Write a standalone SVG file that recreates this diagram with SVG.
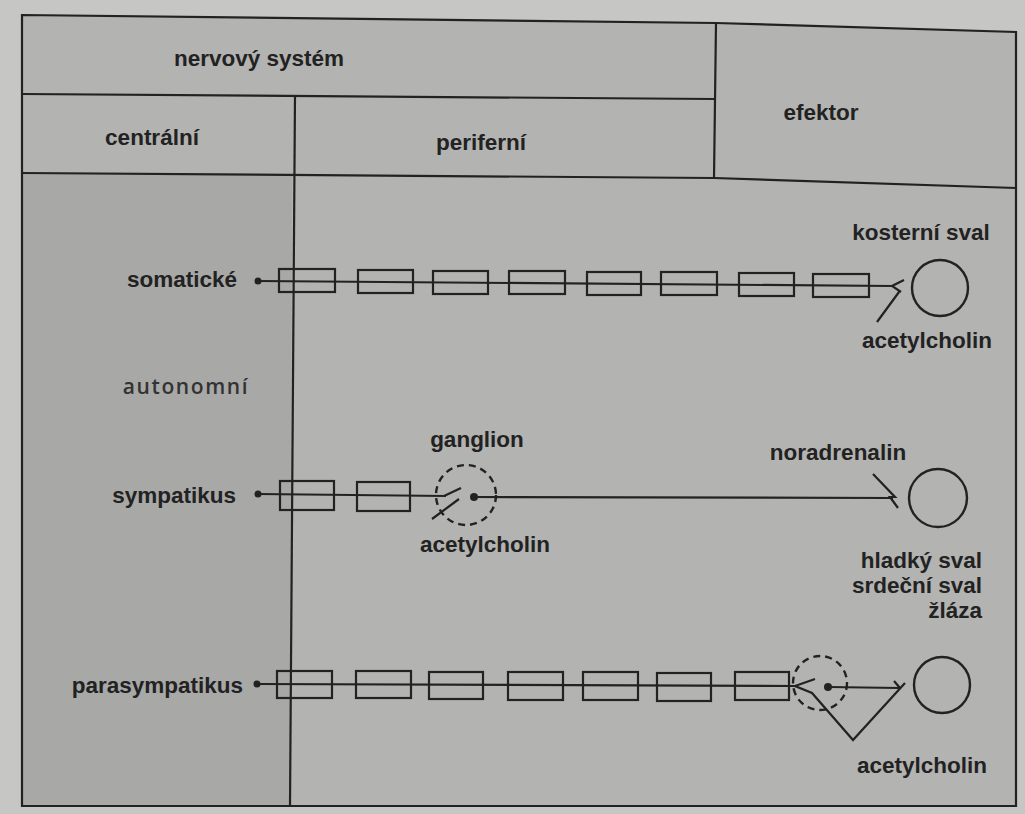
<svg xmlns="http://www.w3.org/2000/svg" width="1025" height="814" viewBox="0 0 1025 814">
<style>
.t{font-family:"Liberation Sans",Arial,sans-serif;font-weight:bold;font-size:22.5px;fill:#222}
.a{font-family:"Open Sans","DejaVu Sans",sans-serif;font-weight:600;font-size:21px;fill:#333;letter-spacing:1.6px}
.ln{stroke:#222;stroke-width:2.2;fill:none}
.fr{stroke:#222;stroke-width:2.2;fill:none}
.bx{stroke:#222;stroke-width:2.2;fill:none}
.ds{stroke:#222;stroke-width:2.4;fill:none;stroke-dasharray:7 5}
.ef{stroke:#222;stroke-width:2.4;fill:none}
</style>
<rect x="0" y="0" width="1025" height="814" fill="#c6c6c4"/>
<path d="M22 15 L716 23 L1016 32 L1016 806 L22 806 Z" fill="#b3b3b1"/>
<path d="M22 173 L292 176 L290 806 L22 806 Z" fill="#a8a8a7"/>

<g id="frame">
  <path class="fr" d="M22 15 L716 23 L1016 32 L1016 806 L22 806 Z"/>
  <path class="fr" d="M22 94 L714 99"/>
  <path class="fr" d="M22 173 L714 178 L1016 188"/>
  <path class="fr" d="M716 23 L714 178"/>
  <path class="fr" d="M295 95 L290 806"/>
</g>

<g id="headers">
  <text class="t" x="259" y="66" text-anchor="middle">nervový systém</text>
  <text class="t" x="152" y="145" text-anchor="middle">centrální</text>
  <text class="t" x="481" y="150" text-anchor="middle">periferní</text>
  <text class="t" x="821" y="120" text-anchor="middle">efektor</text>
</g>

<g id="row-labels">
  <text class="t" x="237" y="287" text-anchor="end">somatické</text>
  <text class="a" x="186" y="394" text-anchor="middle">autonomní</text>
  <text class="t" x="236" y="503" text-anchor="end">sympatikus</text>
  <text class="t" x="243" y="693" text-anchor="end">parasympatikus</text>
</g>

<g id="somaticke">
  <circle cx="258" cy="281" r="3.5" fill="#222"/>
  <path class="ln" d="M258 281 L892 286"/>
  <rect class="bx" x="279" y="269" width="56" height="23"/>
  <rect class="bx" x="358" y="270" width="55" height="23"/>
  <rect class="bx" x="433" y="271" width="55" height="23"/>
  <rect class="bx" x="509" y="271" width="56" height="23"/>
  <rect class="bx" x="587" y="272" width="54" height="23"/>
  <rect class="bx" x="661" y="272" width="56" height="23"/>
  <rect class="bx" x="739" y="273" width="55" height="23"/>
  <rect class="bx" x="813" y="274" width="56" height="23"/>
  <path class="ln" d="M904 280 L892 286 L901 292 M899 292 L877 322"/>
</g>

<g id="kosterni-sval">
  <circle class="ef" cx="940" cy="288" r="28"/>
  <text class="t" x="921" y="240" text-anchor="middle">kosterní sval</text>
  <text class="t" x="927" y="348" text-anchor="middle">acetylcholin</text>
</g>

<g id="sympatikus">
  <circle cx="258" cy="494" r="3.5" fill="#222"/>
  <path class="ln" d="M258 494 L446 496"/>
  <rect class="bx" x="280" y="481" width="54" height="29"/>
  <rect class="bx" x="357" y="482" width="53" height="29"/>
  <circle class="ds" cx="466" cy="495" r="30"/>
  <path class="ln" d="M444 496 L461 488 M459 499 L432 519"/>
  <circle cx="474" cy="497" r="4" fill="#222"/>
  <path class="ln" d="M474 497 L893 498"/>
  <path class="ln" d="M873 474 L895 497 L890 497 L898 508"/>
  <text class="t" x="477" y="447" text-anchor="middle">ganglion</text>
  <text class="t" x="485" y="552" text-anchor="middle">acetylcholin</text>
  <text class="t" x="838" y="460" text-anchor="middle">noradrenalin</text>
</g>

<g id="hladky-sval">
  <circle class="ef" cx="938" cy="498" r="29"/>
  <text class="t" x="982" y="568" text-anchor="end">hladký sval</text>
  <text class="t" x="982" y="593" text-anchor="end">srdeční sval</text>
  <text class="t" x="982" y="618" text-anchor="end">žláza</text>
</g>

<g id="parasympatikus">
  <circle cx="257" cy="684" r="3.5" fill="#222"/>
  <path class="ln" d="M257 684 L795 686"/>
  <rect class="bx" x="277" y="671" width="55" height="27"/>
  <rect class="bx" x="356" y="671" width="55" height="27"/>
  <rect class="bx" x="429" y="672" width="54" height="27"/>
  <rect class="bx" x="508" y="672" width="55" height="28"/>
  <rect class="bx" x="583" y="672" width="55" height="28"/>
  <rect class="bx" x="657" y="673" width="54" height="28"/>
  <rect class="bx" x="735" y="672" width="54" height="28"/>
  <circle class="ds" cx="820" cy="683" r="27"/>
  <path class="ln" d="M815 679 L795 686 L812 693 L853 740 L905 683"/>
  <circle cx="828" cy="687" r="4" fill="#222"/>
  <path class="ln" d="M828 687 L900 688 M894 681 L900 688"/>
  <text class="t" x="922" y="773" text-anchor="middle">acetylcholin</text>
</g>

<g id="parasym-efektor">
  <circle class="ef" cx="942" cy="685" r="28"/>
</g>
</svg>
